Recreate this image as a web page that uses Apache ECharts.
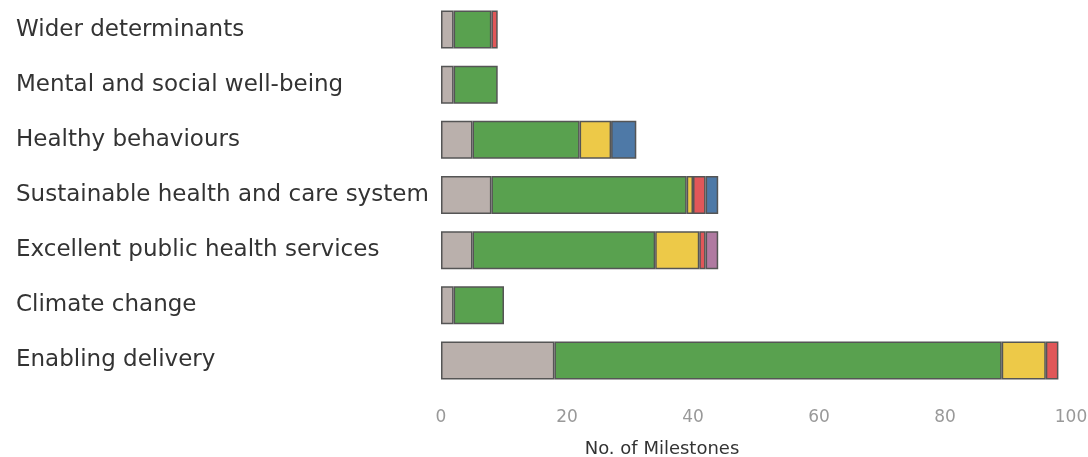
<!DOCTYPE html>
<html>
<head>
<meta charset="utf-8">
<script src="https://cdn.jsdelivr.net/npm/echarts@6/dist/echarts.min.js"></script>
<style>
  html, body { margin: 0; padding: 0; background: #fff; }
  #chart { width: 1088px; height: 457px; }
</style>
</head>
<body>
<div id="chart"></div>
<script>
// Themes, listed top to bottom
const categories = [
  'Wider determinants',
  'Mental and social well-being',
  'Healthy behaviours',
  'Sustainable health and care system',
  'Excellent public health services',
  'Climate change',
  'Enabling delivery'
];

// Milestone counts per status, same order as categories
const notStarted = [2, 2, 5, 8, 5, 2, 18];
const onTrack    = [6, 7, 17, 31, 29, 8, 71];
const atRisk     = [0, 0, 5, 1, 7, 0, 7];
const offTrack   = [1, 0, 0, 2, 1, 0, 2];
const complete   = [0, 0, 4, 2, 0, 0, 0];
const other      = [0, 0, 0, 0, 2, 0, 0];

const xTicks = [0, 20, 40, 60, 80, 100];

const statusSeries = [
  { name: 'Not started', data: notStarted, color: '#bab0ac' },
  { name: 'On track',    data: onTrack,    color: '#59a14f' },
  { name: 'At risk',     data: atRisk,     color: '#edc948' },
  { name: 'Off track',   data: offTrack,   color: '#e15759' },
  { name: 'Complete',    data: complete,   color: '#4e79a7' },
  { name: 'Other',       data: other,      color: '#b07aa1' }
];

const FONT = 'DejaVu Sans';

const chart = echarts.init(document.getElementById('chart'), null, { renderer: 'canvas' });

chart.setOption({
  animation: false,
  grid: {
    left: 441, right: 17, top: 2, bottom: 69,
    containLabel: false,
    outerBoundsMode: 'none'
  },
  xAxis: {
    type: 'value',
    min: xTicks[0],
    max: xTicks[xTicks.length - 1],
    interval: xTicks[1] - xTicks[0],
    name: 'No. of Milestones',
    nameLocation: 'middle',
    nameGap: 52,
    nameTextStyle: {
      color: '#333', fontSize: 18, fontFamily: FONT,
      padding: [0, 188, 0, 0]
    },
    axisLine: { show: false },
    axisTick: { show: false },
    splitLine: { show: false },
    axisLabel: { color: '#999', fontSize: 17, fontFamily: FONT, margin: 21 }
  },
  yAxis: {
    type: 'category',
    inverse: true,
    data: categories,
    axisLine: { show: false },
    axisTick: { show: false },
    axisLabel: {
      align: 'left',
      margin: 425,
      color: '#333',
      fontSize: 23,
      fontFamily: FONT,
      padding: [10, 0, 0, 0]
    }
  },
  series: statusSeries.map(s => ({
    name: s.name,
    type: 'bar',
    stack: 'total',
    barWidth: 38,
    data: s.data.map(v => (v === 0 ? null : v)),
    itemStyle: { color: s.color, borderColor: '#555', borderWidth: 1.5 }
  }))
});
</script>
</body>
</html>
